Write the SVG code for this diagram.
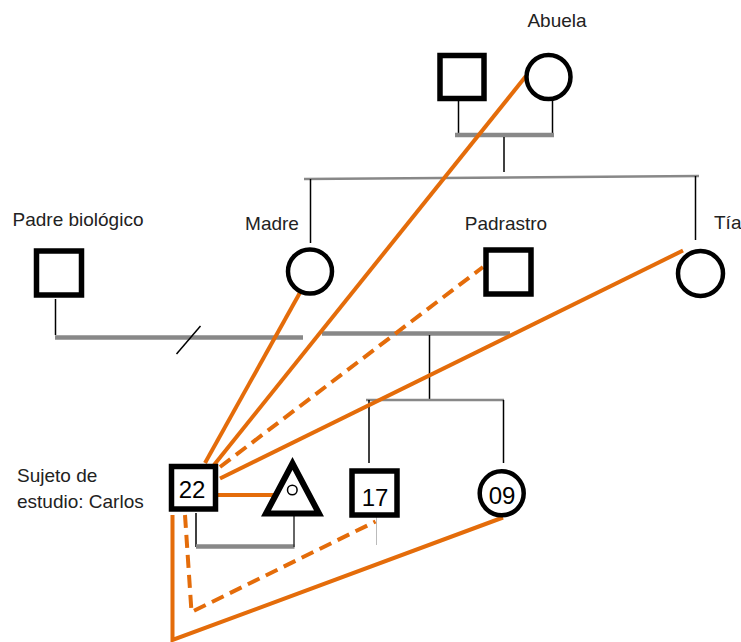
<svg xmlns="http://www.w3.org/2000/svg" width="741" height="642" viewBox="0 0 741 642">
<style>
  .lbl { font-family: "Liberation Sans", Arial, sans-serif; font-size: 19px; fill: #222; }
  .num { font-family: "Liberation Sans", Arial, sans-serif; font-size: 24px; fill: #000; text-anchor: middle; }
  .sq { fill: #fff; stroke: #000; stroke-width: 5.5; }
  .ci { fill: #fff; stroke: #000; stroke-width: 4.5; }
  .thin { stroke: #000; stroke-width: 1.5; fill: none; }
  .bar { stroke: #888; stroke-width: 4.5; fill: none; }
  .sib { stroke: #888; stroke-width: 2.5; fill: none; }
  .rel { stroke: #E46C0A; stroke-width: 4; fill: none; }
  .dash { stroke-dasharray: 13 7; }
</style>
<rect width="741" height="642" fill="#fff"/>

<g id="structure">
  <!-- grandparents -->
  <line class="thin" x1="458.5" y1="101" x2="458.5" y2="133"/>
  <line class="thin" x1="552.5" y1="101" x2="552.5" y2="133"/>
  <line class="bar" x1="455" y1="135" x2="554" y2="135"/>
  <line class="thin" x1="504" y1="137" x2="504" y2="172"/>
  <line class="sib" x1="304" y1="179" x2="699" y2="176"/>
  <line class="thin" x1="310.5" y1="179" x2="310.5" y2="243"/>
  <line class="thin" x1="695.5" y1="176" x2="695.5" y2="240"/>
  <!-- parents -->
  <line class="thin" x1="55.5" y1="299" x2="55.5" y2="335"/>
  <line class="bar" x1="55" y1="337.5" x2="303" y2="337.5"/>
  <line class="thin" x1="176.5" y1="354" x2="200.5" y2="326"/>
  <line class="bar" x1="322" y1="333.5" x2="510" y2="333.5"/>
  <line class="thin" x1="429.5" y1="335" x2="429.5" y2="400"/>
  <line class="sib" x1="366" y1="400" x2="504" y2="400"/>
  <line class="thin" x1="369" y1="400" x2="369" y2="463"/>
  <line class="thin" x1="503.5" y1="400" x2="503.5" y2="463"/>
  <!-- Carlos and partner -->
  <line class="thin" x1="196" y1="513" x2="196" y2="547"/>
  <line class="bar" x1="196" y1="546.5" x2="294.5" y2="546.5"/>
  <line stroke="#333" stroke-width="1.5" x1="294" y1="516" x2="294" y2="547"/>
  <line stroke="#bbb" stroke-width="1" x1="376.5" y1="517" x2="376.5" y2="545"/>
</g>

<g id="connectors">
  <line class="rel" x1="205" y1="463" x2="302" y2="289"/>
  <line class="rel" x1="214" y1="465" x2="526" y2="76"/>
  <line class="rel dash" x1="220" y1="467" x2="483" y2="267"/>
  <line class="rel" x1="220" y1="478.5" x2="683" y2="250.5"/>
  <line class="rel" x1="217" y1="495" x2="275" y2="495"/>
  <polyline class="rel dash" points="185,515 191.5,612 375.5,521.5"/>
  <polyline class="rel" points="172.5,515 172.5,640 503,517.5"/>
</g>

<g id="abuelo">
  <rect class="sq" x="440" y="55.5" width="44" height="43"/>
</g>
<g id="abuela">
  <circle class="ci" cx="548.5" cy="77" r="22"/>
  <text class="lbl" x="557" y="27" text-anchor="middle">Abuela</text>
</g>
<g id="padre-biologico">
  <rect class="sq" x="36.5" y="251" width="45" height="44"/>
  <text class="lbl" x="78" y="226" text-anchor="middle">Padre biológico</text>
</g>
<g id="madre">
  <circle class="ci" cx="310" cy="271.5" r="22"/>
  <text class="lbl" x="272" y="230" text-anchor="middle">Madre</text>
</g>
<g id="padrastro">
  <rect class="sq" x="486" y="250" width="45" height="44"/>
  <text class="lbl" x="506" y="230" text-anchor="middle">Padrastro</text>
</g>
<g id="tia">
  <circle class="ci" cx="700.5" cy="273.5" r="22.5"/>
  <text class="lbl" x="714" y="229">Tía</text>
</g>
<g id="carlos">
  <rect class="sq" x="171.5" y="466.5" width="44" height="42.5" stroke-width="6"/>
  <text class="num" x="192" y="498">22</text>
  <text class="lbl" x="17" y="482">Sujeto de</text>
  <text class="lbl" x="17" y="508">estudio: Carlos</text>
</g>
<g id="pareja">
  <polygon points="292.5,463.5 266,513.5 319,513.5" fill="#fff" stroke="#000" stroke-width="6"/>
  <circle cx="292.3" cy="490" r="4.8" fill="none" stroke="#000" stroke-width="1.5"/>
</g>
<g id="hermano-17">
  <rect class="sq" x="352" y="471" width="45" height="44"/>
  <text class="num" x="375" y="506">17</text>
</g>
<g id="hermana-09">
  <circle class="ci" cx="501.7" cy="493.3" r="22" stroke-width="5"/>
  <text class="num" x="502" y="504">09</text>
</g>
</svg>
